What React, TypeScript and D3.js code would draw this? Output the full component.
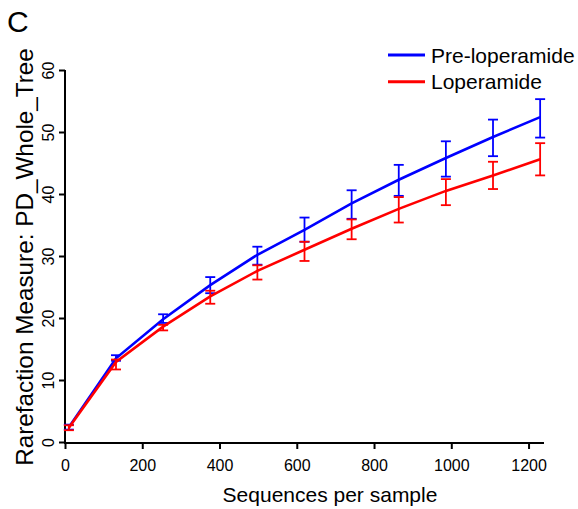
import { useEffect, useRef } from "react";
import * as d3 from "d3";

// sequences per sample (rarefaction depths)
const depths = [10, 132, 254, 376, 498, 620, 742, 864, 986, 1108, 1230];

const preMean = [2.4, 13.5, 19.8, 25.3, 30.2, 34.2, 38.5, 42.3, 45.8, 49.2, 52.4];
const preUpper = [2.8, 14.0, 20.6, 26.6, 31.5, 36.2, 40.6, 44.7, 48.5, 52.0, 55.3];
const preLower = [2.0, 13.1, 19.2, 24.0, 28.6, 32.3, 36.0, 39.7, 42.8, 46.1, 49.1];

const loperMean = [2.3, 12.9, 18.6, 23.5, 27.6, 31.0, 34.4, 37.6, 40.5, 43.0, 45.6];
const loperUpper = [2.7, 13.3, 18.9, 24.4, 28.5, 32.3, 35.9, 39.5, 42.4, 45.2, 48.2];
const loperLower = [1.9, 11.7, 18.0, 22.3, 26.2, 29.2, 32.7, 35.4, 38.2, 40.8, 43.0];

const xTicks = [0, 200, 400, 600, 800, 1000, 1200];
const yTicks = [0, 10, 20, 30, 40, 50, 60];

const seriesNames = ["Pre-loperamide", "Loperamide"];
const seriesColors = ["#0000ff", "#ff0000"];

const RarefactionChart = () => {
  const svgRef = useRef<SVGSVGElement>(null);

  useEffect(() => {
    const svg = d3.select(svgRef.current);
    svg.selectAll("*").remove();

    const width = 578;
    const height = 509;
    const margin = { top: 70, right: 34, bottom: 67, left: 65 };
    const font = "Liberation Sans, Arial, sans-serif";

    const x = d3
      .scaleLinear()
      .domain([0, 1240])
      .range([margin.left, width - margin.right]);

    const y = d3
      .scaleLinear()
      .domain([0, 60])
      .range([height - margin.bottom, margin.top]);

    const series = [
      { mean: preMean, upper: preUpper, lower: preLower },
      { mean: loperMean, upper: loperUpper, lower: loperLower }
    ];

    // axes
    const xAxis = svg
      .append("g")
      .attr("transform", `translate(0,${y(0) + 1})`)
      .call(
        d3.axisBottom(x).tickValues(xTicks).tickFormat(d3.format("d")).tickSize(6).tickSizeOuter(0).tickPadding(11)
      );
    xAxis.select(".domain").attr("stroke-width", 2).attr("d", `M${x(0)},0H${x(1240)}`);
    xAxis.selectAll(".tick line").attr("stroke-width", 2);
    xAxis.selectAll("text").attr("font-size", 16).attr("font-family", font).attr("fill", "#000");

    const yAxis = svg
      .append("g")
      .attr("transform", `translate(${margin.left},0)`)
      .call(d3.axisLeft(y).tickValues(yTicks).tickSize(6).tickSizeOuter(0));
    yAxis.select(".domain").attr("stroke-width", 2).attr("d", `M0,${y(60)}V${y(0) + 2}`);
    yAxis.selectAll(".tick line").attr("stroke-width", 2);
    yAxis
      .selectAll("text")
      .attr("font-size", 16)
      .attr("font-family", font)
      .attr("fill", "#000")
      .attr("text-anchor", "middle")
      .attr("dy", 0)
      .attr("x", 0)
      .attr("transform", "translate(-11,0) rotate(-90)");

    // error bars then lines, per series
    const line = d3
      .line<number>()
      .x((_, i) => x(depths[i]))
      .y(d => y(d));

    series.forEach((s, k) => {
      const g = svg.append("g").attr("stroke", seriesColors[k]).attr("fill", "none");
      const bars = g.selectAll("g.err").data(depths).join("g").attr("class", "err");
      bars
        .append("line")
        .attr("x1", d => x(d))
        .attr("x2", d => x(d))
        .attr("y1", (_, i) => y(s.upper[i]))
        .attr("y2", (_, i) => y(s.lower[i]))
        .attr("stroke-width", 1.8);
      [s.upper, s.lower].forEach(arr => {
        bars
          .append("line")
          .attr("x1", d => x(d) - 5)
          .attr("x2", d => x(d) + 5)
          .attr("y1", (_, i) => y(arr[i]))
          .attr("y2", (_, i) => y(arr[i]))
          .attr("stroke-width", 1.8);
      });
      g.append("path").attr("d", line(s.mean)).attr("stroke-width", 2.6);
    });

    // legend
    const legend = svg.append("g").attr("transform", "translate(388,55)");
    seriesNames.forEach((name, i) => {
      legend
        .append("line")
        .attr("x1", 0)
        .attr("x2", 37)
        .attr("y1", i * 26.7)
        .attr("y2", i * 26.7)
        .attr("stroke", seriesColors[i])
        .attr("stroke-width", 3);
      legend
        .append("text")
        .attr("x", 43)
        .attr("y", i * 26.7 + 7.5)
        .attr("font-size", 21)
        .attr("font-family", font)
        .text(name);
    });

    // axis titles
    svg
      .append("text")
      .attr("x", 330)
      .attr("y", 502)
      .attr("text-anchor", "middle")
      .attr("font-size", 21)
      .attr("font-family", font)
      .text("Sequences per sample");

    svg
      .append("text")
      .attr("transform", `translate(33,257) rotate(-90)`)
      .attr("text-anchor", "middle")
      .attr("font-size", 24.3)
      .attr("font-family", font)
      .text("Rarefaction Measure: PD_Whole_Tree");

    // panel letter
    svg
      .append("text")
      .attr("x", 7)
      .attr("y", 32)
      .attr("font-size", 30)
      .attr("font-family", font)
      .text("C");
  }, []);

  return (
    <svg
      ref={svgRef}
      width={578}
      height={509}
      style={{ position: "absolute", left: 0, top: 0, background: "#fff" }}
    ></svg>
  );
};

export default function App() {
  return <RarefactionChart />;
}
